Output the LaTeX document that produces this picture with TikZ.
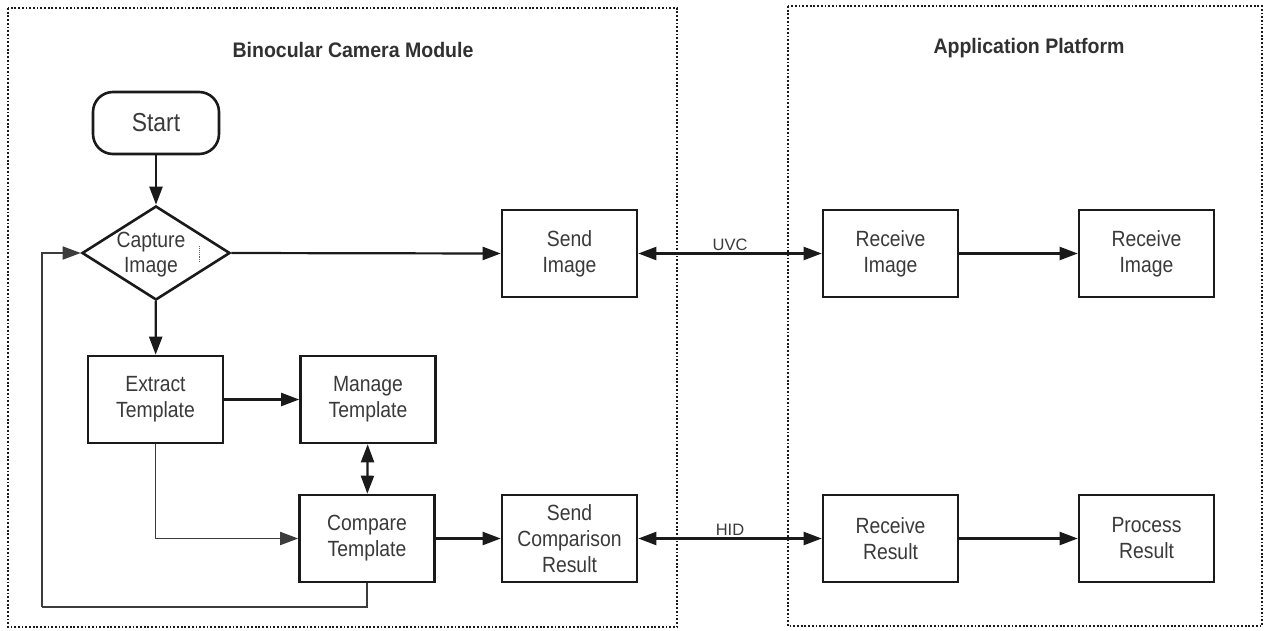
\documentclass[tikz,border=0pt]{standalone}
\usepackage{fontspec}
\setmainfont{Liberation Sans}
\newfontfamily\nfont[FakeStretch=0.88]{Liberation Sans}
\newfontfamily\tfont[FakeStretch=0.93]{Liberation Sans}
\usetikzlibrary{shapes.geometric,arrows.meta}
\definecolor{txt}{HTML}{3A3A3A}
\definecolor{ln}{HTML}{1A1A1A}
\tikzset{
  box/.style={draw=ln, line width=2.6pt, minimum width=135pt, minimum height=87pt, inner sep=0pt,
    align=center, text=txt, font=\nfont\fontsize{22}{26}\selectfont},
  conn/.style={draw=ln, line width=2.2pt, -{Triangle[length=18pt,width=13pt]}},
  biconn/.style={draw=ln, line width=2.2pt, {Triangle[length=18pt,width=13pt]}-{Triangle[length=18pt,width=13pt]}},
  thinconn/.style={draw=ln!85, line width=1.8pt, -{Triangle[length=18pt,width=13pt]}},
  frame/.style={draw=ln, line width=2.2pt, dash pattern=on 1.8pt off 1.9pt},
  ttl/.style={font=\tfont\bfseries\fontsize{21}{24}\selectfont, text=ln!90},
  lbl/.style={font=\fontsize{16.5}{18}\selectfont, text=txt, inner sep=2pt}
}
\begin{document}
\begin{tikzpicture}[x=1pt,y=-1pt]
\useasboundingbox (0,0) rectangle (1265,630);
\fill[white] (0,0) rectangle (1265,630);
% frames
\draw[frame] (8,8) rectangle (677,627);
\draw[frame] (788,6) rectangle (1262,626);
\node[ttl] (t1) at (353,50) {Binocular Camera Module};
\node[ttl] (t2) at (1029,48) {Application Platform};
% nodes
\node[draw=ln, line width=2.6pt, rounded corners=20pt, minimum width=126pt, minimum height=62pt, inner sep=0pt,
  text=txt, font=\nfont\fontsize{26}{30}\selectfont] (start) at (156,123) {Start};
\node[diamond, draw=ln, line width=2.6pt, minimum width=148pt, minimum height=94pt, inner sep=0pt, aspect=1.57] (cap) at (156,253) {};
\node[align=center, text=txt, font=\nfont\fontsize{22}{25}\selectfont, inner sep=0pt] (captxt) at (151,255) {Capture\\Image};
\draw[densely dotted, line width=0.9pt, ln!70] (199,246) -- (199,262);
\node[box] (ext) at (155.5,399.5) {Extract\\Template};
\node[box] (man) at (368,399.5) {Manage\\Template};
\node[box] (cmp) at (367,538.5) {Compare\\Template};
\node[box] (sim) at (569.5,253.5) {Send\\Image};
\node[box] (scr) at (569.5,538.5) {Send\\Comparison\\Result};
\node[box] (ri1) at (890.5,253.5) {Receive\\Image};
\node[box] (ri2) at (1146.5,253.5) {Receive\\Image};
\node[box] (rr) at (890.5,538.5) {Receive\\Result};
\node[box] (pr) at (1146.5,538.5) {Process\\Result};
\coordinate (lb) at (42,607);
% connectors
\draw[conn] (start) -- (cap);
\draw[conn] (cap) -- (ext);
\draw[conn] (cap.east) -- (sim.west);
\draw[conn] (ext.east |- man.west) -- (man.west);
\draw[biconn] (man) -- (cmp);
\draw[thinconn] (ext.south) |- (cmp.west);
\draw[conn] (cmp.east) -- (scr.west);
\draw[thinconn, -] (cmp.south) |- (lb);
\draw[thinconn] (lb) |- (cap.west);
\draw[biconn] (sim.east) -- node[lbl, above] (uvc) {UVC} (ri1.west);
\draw[biconn] (scr.east) -- node[lbl, above] (hid) {HID} (rr.west);
\draw[conn] (ri1) -- (ri2);
\draw[conn] (rr) -- (pr);
\end{tikzpicture}
\end{document}
